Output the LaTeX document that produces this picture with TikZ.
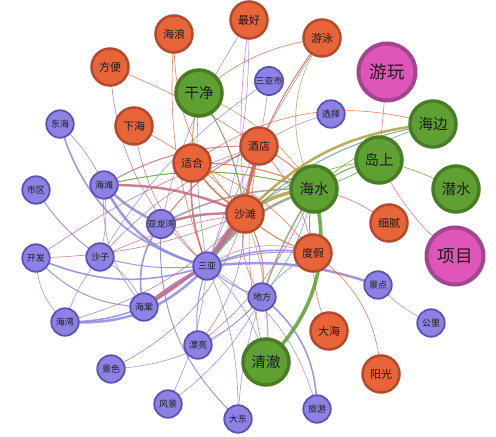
\documentclass[tikz,border=0pt]{standalone}
\usepackage{fontspec}
\newfontfamily\cjk{Noto Sans CJK SC}
\usetikzlibrary{backgrounds}
\definecolor{of}{HTML}{E8653A}
\definecolor{ob}{HTML}{B4492C}
\definecolor{gf}{HTML}{5FA032}
\definecolor{gb}{HTML}{4A7B25}
\definecolor{pkf}{HTML}{DF56B8}
\definecolor{pkb}{HTML}{A4458F}
\definecolor{vf}{HTML}{8D82E3}
\definecolor{vb}{HTML}{5E52B8}
\definecolor{tx}{HTML}{1C1C1C}
\definecolor{ep}{HTML}{8F86E6}
\definecolor{er}{HTML}{C8697E}
\definecolor{eo}{HTML}{E5683E}
\definecolor{eg}{HTML}{5E9E2E}
\definecolor{ey}{HTML}{B19E3E}
\definecolor{et}{HTML}{5E9C98}
\definecolor{ek}{HTML}{D36BB8}
\definecolor{ex}{HTML}{9A9A86}
\begin{document}
\begin{tikzpicture}[x=1pt,y=1pt,
  nd/.style={circle,inner sep=0pt,text=tx},
  orn/.style={nd,draw=ob,fill=of,line width=2.5pt,minimum size=37pt,font=\cjk\fontsize{11}{13}\selectfont},
  grn/.style={nd,draw=gb,fill=gf,line width=3.5pt,minimum size=46pt,font=\cjk\fontsize{14.5}{16}\selectfont},
  pnk/.style={nd,draw=pkb,fill=pkf,line width=4pt,minimum size=57pt,font=\cjk\fontsize{17.5}{19}\selectfont},
  prp/.style={nd,draw=vb,fill=vf,line width=1.8pt,minimum size=27.5pt,font=\cjk\fontsize{9}{10}\selectfont},
  eP/.style={draw=ep,opacity=.85},
  eR/.style={draw=er,opacity=.85},
  eO/.style={draw=eo,opacity=.85},
  eG/.style={draw=eg,opacity=.85},
  eY/.style={draw=ey,opacity=.85},
  eT/.style={draw=et,opacity=.85},
  eK/.style={draw=ek,opacity=.85},
  eX/.style={draw=ex,opacity=.85},
  w0/.style={line width=0.6pt},
  w1/.style={line width=1pt},
  w2/.style={line width=1.6pt},
  w3/.style={line width=2.5pt},
  w4/.style={line width=3.6pt}]
\useasboundingbox (0,0) rectangle (496,437);
% orange
\node[orn] (hl) at (174,403) {海浪};
\node[orn] (zh) at (249,417) {最好};
\node[orn] (yy) at (322,399) {游泳};
\node[orn] (fb) at (110,370) {方便};
\node[orn] (xh) at (134,311) {下海};
\node[orn] (jd) at (259,291) {酒店};
\node[orn] (sh) at (192,274) {适合};
\node[orn] (st) at (245,223) {沙滩};
\node[orn] (xn) at (389,214) {细腻};
\node[orn] (dj) at (313,184) {度假};
\node[orn] (dh) at (329,106) {大海};
\node[orn] (yg) at (381,63) {阳光};
% green
\node[grn] (gj) at (199,344) {干净};
\node[grn] (hb) at (433,313) {海边};
\node[grn] (ds) at (379,277) {岛上};
\node[grn] (hs) at (314,248) {海水};
\node[grn] (qs) at (456,248) {潜水};
\node[grn] (qc) at (266,75) {清澈};
% pink
\node[pnk] (yw) at (387,365) {游玩};
\node[pnk] (xm) at (455,181) {项目};
% purple
\node[prp] (sys) at (269,356) {三亚市};
\node[prp] (xz) at (331,323) {选择};
\node[prp] (dha) at (60,313) {东海};
\node[prp] (sq) at (36,247) {市区};
\node[prp] (ht) at (104,252) {海滩};
\node[prp] (ylw) at (161,213) {亚龙湾};
\node[prp] (sz) at (100,180) {沙子};
\node[prp] (kfa) at (36,179) {开发};
\node[prp] (sy) at (207,171) {三亚};
\node[prp] (df) at (262,140) {地方};
\node[prp] (jdn) at (378,152) {景点};
\node[prp] (htg) at (144,130) {海棠};
\node[prp] (hw) at (65,115) {海湾};
\node[prp] (gl) at (431,114) {公里};
\node[prp] (pl) at (198,92) {漂亮};
\node[prp] (js) at (111,68) {景色};
\node[prp] (fj) at (168,33) {风景};
\node[prp] (dd) at (238,18) {大东};
\node[prp] (ly) at (317,28) {旅游};
\begin{scope}[on background layer]
\fill[white] (0,0) rectangle (496,437);
% purple network
\draw[eP,w3] (ht.center) to[bend right=25] (sy.center);
\draw[eP,w3] (ht.center) to[bend right=10] (ylw.center);
\draw[eP,w2] (dha.center) to[bend right=30] (sy.center);
\draw[eR,w0] (dha.center) to[bend left=10] (ht.center);
\draw[eP,w1] (sq.center) to[bend right=10] (sz.center);
\draw[eP,w0] (ht.center) to[bend left=10] (sz.center);
\draw[eP,w0] (ht.center) to[bend right=22] (htg.center);
\draw[eP,w2] (ylw.center) to[bend right=25] (htg.center);
\draw[eP,w1] (ylw.center) to[bend right=25] (dd.center);
\draw[eP,w0] (sy.center) to[bend left=12] (dd.center);
\draw[eP,w0] (df.center) to[bend right=8] (dd.center);
\draw[eP,w2] (kfa.center) to[bend right=20] (sy.center);
\draw[eR,w0] (kfa.center) to[bend right=10] (st.center);
\draw[eR,w0] (kfa.center) to[bend left=8] (jd.center);
\draw[eP,w0] (kfa.center) to[bend right=22] (hw.center);
\draw[eP,w1] (kfa.center) to[bend right=22] (htg.center);
\draw[eP,w1] (sz.center) to[bend right=10] (sy.center);
\draw[eR,w0] (sz.center) to[bend left=8] (st.center);
\draw[eR,w0] (sz.center) to[bend left=12] (jd.center);
\draw[eP,w0] (sz.center) to[bend left=18] (htg.center);
\draw[eP,w3] (hw.center) to[bend right=25] (sy.center);
\draw[eP,w2] (hw.center) to[bend right=10] (htg.center);
\draw[eR,w0] (hw.center) to[bend right=15] (st.center);
\draw[eP,w0] (hw.center) to[bend left=10] (sz.center);
\draw[eR,w4] (htg.center) to[bend left=5] (sy.center);
\draw[eR,w3] (htg.center) to[bend right=12] (st.center);
\draw[eP,w1] (htg.center) to[bend left=22] (dj.center);
\draw[eP,w1] (pl.center) to[bend left=12] (sy.center);
\draw[eR,w0] (pl.center) to[bend right=18] (st.center);
\draw[eR,w0] (pl.center) to[bend right=14] (hs.center);
\draw[eP,w0] (pl.center) to[bend right=12] (df.center);
\draw[eR,w0] (js.center) to[bend right=22] (st.center);
\draw[eP,w0] (js.center) to[bend right=22] (df.center);
\draw[eP,w0] (fj.center) to[bend right=10] (sy.center);
\draw[eP,w0] (fj.center) to[bend right=12] (df.center);
\draw[eP,w1] (df.center) to[bend left=12] (sy.center);
\draw[eR,w1] (df.center) to[bend right=18] (st.center);
\draw[eR,w0] (st.center) to[bend right=22] (df.center);
\draw[eP,w2] (df.center) to[bend left=25] (ly.center);
\draw[eT,w0] (df.center) to[bend right=12] (hs.center);
\draw[eP,w0] (df.center) to[bend left=12] (qc.center);
\draw[eR,w4] (sy.center) to[bend left=10] (st.center);
\draw[eR,w3] (sy.center) to[bend right=12] (jd.center);
\draw[eX,w3] (sy.center) to[bend left=18] (hs.center);
\draw[eP,w2] (sy.center) to[bend left=15] (dj.center);
\draw[eP,w0] (sy.center) to[bend left=25] (dj.center);
\draw[eR,w2] (sy.center) to[bend left=12] (sh.center);
\draw[eR,w0] (sy.center) to[bend left=18] (xh.center);
\draw[eR,w0] (sy.center) to[bend left=22] (fb.center);
\draw[eO,w0] (sy.center) to[bend left=12] (hl.center);
\draw[eP,w0] (sy.center) to[bend right=10] (zh.center);
\draw[eP,w0] (sy.center) to[bend right=12] (sys.center);
\draw[eT,w0] (sy.center) to[bend left=6] (gj.center);
\draw[eP,w0] (sy.center) to[bend left=15] (qc.center);
\draw[eP,w0] (sy.center) to[bend left=22] (ly.center);
\draw[eP,w3] (sy.center) to[bend left=12] (jdn.center);
\draw[eP,w0] (jdn.center) to[bend right=10] (gl.center);
\draw[eR,w3] (ylw.center) to[bend left=10] (st.center);
\draw[eX,w2] (ylw.center) to[bend left=14] (hs.center);
\draw[eR,w1] (ylw.center) to[bend left=15] (jd.center);
\draw[eR,w3] (ht.center) to[bend left=12] (st.center);
\draw[eR,w1] (ht.center) to[bend left=15] (jd.center);
\draw[eG,w1] (ht.center) to[bend left=14] (hs.center);
\draw[eP,w0] (xz.center) to[bend right=10] (jd.center);
\draw[eP,w0] (sys.center) to[bend right=12] (sz.center);
% orange and others
\draw[eO,w0] (hl.center) to[bend right=22] (st.center);
\draw[eP,w0] (zh.center) to[bend right=10] (ylw.center);
\draw[eK,w0] (zh.center) to[bend right=6] (st.center);
\draw[eP,w0] (yy.center) to[bend right=6] (sy.center);
\draw[eO,w1] (yy.center) to[bend right=6] (jd.center);
\draw[eO,w0] (yy.center) to[bend right=15] (gj.center);
\draw[eY,w0] (yy.center) to[bend right=30] (hs.center);
\draw[eO,w0] (fb.center) to[bend left=6] (jd.center);
\draw[eO,w0] (xh.center) to[bend left=12] (st.center);
\draw[eG,w1] (gj.center) to[bend left=12] (st.center);
\draw[eY,w1] (gj.center) to[bend right=6] (sh.center);
\draw[eY,w0] (gj.center) to[bend left=15] (hs.center);
\draw[eO,w3] (jd.center) to[bend right=6] (st.center);
\draw[eO,w1] (jd.center) to[bend left=12] (hs.center);
\draw[eO,w0] (jd.center) to[bend left=15] (dj.center);
\draw[eO,w2] (sh.center) to[bend right=12] (st.center);
\draw[eO,w1] (sh.center) to[bend left=12] (hs.center);
\draw[eO,w0] (sh.center) to[bend left=15] (dj.center);
\draw[eY,w4] (st.center) to[bend left=15] (hs.center);
\draw[eO,w1] (st.center) to[bend right=12] (dj.center);
\draw[eO,w0] (hs.center) to[bend left=12] (xn.center);
\draw[eO,w0] (dj.center) to[bend right=12] (dh.center);
\draw[eO,w0] (dj.center) to[bend left=25] (yg.center);
\draw[eT,w1] (dj.center) to[bend left=12] (hs.center);
\draw[eT,w0] (dj.center) to[bend right=12] (df.center);
\draw[eG,w4] (hs.center) to[bend left=30] (qc.center);
\draw[eY,w3] (hb.center) to[bend right=20] (st.center);
\draw[eT,w1] (hb.center) to[bend right=22] (sy.center);
\draw[eO,w0] (hb.center) to[bend right=25] (sh.center);
\draw[eG,w0] (hb.center) to[bend right=12] (hs.center);
\draw[eG,w1] (ds.center) to[bend right=12] (hs.center);
\draw[eG,w0] (ds.center) to[bend left=8] (hs.center);
\draw[eG,w0] (ds.center) to[bend right=15] (st.center);
\draw[eG,w0] (ds.center) to[bend left=6] (qs.center);
\draw[eK,w0] (yw.center) to (ds.center);
\draw[eK,w0] (ds.center) to[bend right=12] (xm.center);
\draw[eY,w0] (qc.center) to[bend right=12] (st.center);
\draw[eO,w0] (qc.center) to[bend left=12] (jd.center);
\draw[eX,w2] (hs.center) to[bend right=6] (df.center);
\end{scope}
\end{tikzpicture}
\end{document}
